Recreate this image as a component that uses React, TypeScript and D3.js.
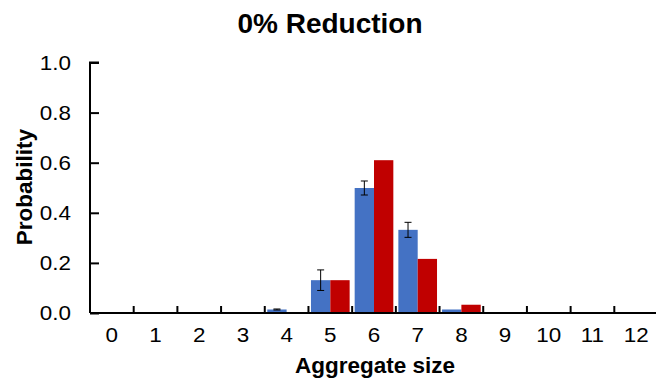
import React, { useEffect, useRef } from 'react';
import * as d3 from 'd3';

const sizes = ['0', '1', '2', '3', '4', '5', '6', '7', '8', '9', '10', '11', '12'];
const observed = [0, 0, 0, 0, 0.014, 0.131, 0.499, 0.332, 0.014, 0, 0, 0, 0];
const observedErr = [0, 0, 0, 0, 0.002, 0.041, 0.028, 0.03, 0, 0, 0, 0, 0];
const predicted = [0, 0, 0, 0, 0.004, 0.131, 0.61, 0.216, 0.033, 0, 0, 0, 0];
const yTicks = [0, 0.2, 0.4, 0.6, 0.8, 1.0];

const App = () => {
  const ref = useRef<SVGSVGElement>(null);

  useEffect(() => {
    document.body.style.margin = '0';
    const svg = d3.select(ref.current);
    svg.selectAll('*').remove();

    const font = 'Liberation Sans, Arial, sans-serif';
    const x = d3.scaleBand().domain(sizes).range([90, 658]);
    const inner = d3.scaleBand().domain(['obs', 'pred']).range([0, x.bandwidth()]).paddingOuter(0.13);
    const y = d3.scaleLinear().domain([0, 1]).range([313, 62.5]);

    // bars
    const g = svg.append('g');
    sizes.forEach((s, i) => {
      const x0 = x(s)!;
      g.append('rect')
        .attr('x', x0 + inner('obs')!)
        .attr('y', y(observed[i]))
        .attr('width', inner.bandwidth())
        .attr('height', y(0) - y(observed[i]))
        .attr('fill', '#4472C4');
      g.append('rect')
        .attr('x', x0 + inner('pred')!)
        .attr('y', y(predicted[i]))
        .attr('width', inner.bandwidth())
        .attr('height', y(0) - y(predicted[i]))
        .attr('fill', '#C00000');
      if (observedErr[i] > 0) {
        const cx = x0 + inner('obs')! + inner.bandwidth() / 2;
        const lo = y(observed[i] - observedErr[i]);
        const hi = y(observed[i] + observedErr[i]);
        g.append('line').attr('x1', cx).attr('x2', cx).attr('y1', lo).attr('y2', hi)
          .attr('stroke', '#000').attr('stroke-width', 1);
        [lo, hi].forEach((yy) =>
          g.append('line').attr('x1', cx - 3.5).attr('x2', cx + 3.5).attr('y1', yy).attr('y2', yy)
            .attr('stroke', '#000').attr('stroke-width', 1)
        );
      }
    });

    // y axis
    const yAxis = svg.append('g').attr('transform', 'translate(90,0)')
      .call(d3.axisRight(y).tickValues(yTicks).tickSize(9).tickFormat(d3.format('.1f')));
    yAxis.select('.domain').attr('stroke-width', 2).attr('d', `M9,${y(1)}H0V${y(0)}`);
    yAxis.selectAll('.tick line').attr('stroke-width', 2);
    yAxis.selectAll('.tick text')
      .attr('x', null).attr('dy', '0.35em')
      .attr('transform', 'translate(-19,0) scale(1.15,1)')
      .attr('text-anchor', 'end')
      .style('font-family', font).style('font-size', '19.5px').attr('fill', '#000');

    // x axis
    const xAxis = svg.append('g').attr('transform', 'translate(0,313)')
      .call(d3.axisTop(x).tickSize(0));
    xAxis.select('.domain').attr('stroke-width', 2).attr('d', 'M90,0H658');
    xAxis.selectAll('.tick text')
      .attr('y', null).attr('dy', null)
      .attr('transform', 'translate(0,29) scale(1.15,1)')
      .style('font-family', font).style('font-size', '19.5px').attr('fill', '#000');
    sizes.slice(1).forEach((s) => {
      xAxis.append('line').attr('x1', x(s)!).attr('x2', x(s)!).attr('y1', 0).attr('y2', -7)
        .attr('stroke', '#000').attr('stroke-width', 2);
    });

    // titles
    svg.append('text').attr('x', 330).attr('y', 33).attr('text-anchor', 'middle')
      .style('font-family', font).style('font-size', '28px').style('font-weight', 'bold')
      .text('0% Reduction');
    svg.append('text').attr('x', 375).attr('y', 373).attr('text-anchor', 'middle')
      .style('font-family', font).style('font-size', '22.5px').style('font-weight', 'bold')
      .text('Aggregate size');
    svg.append('text').attr('transform', 'translate(32,187) rotate(-90)').attr('text-anchor', 'middle')
      .style('font-family', font).style('font-size', '22.5px').style('font-weight', 'bold')
      .text('Probability');
  }, []);

  return <svg ref={ref} width={656} height={379} style={{ display: 'block', background: '#fff' }} />;
};

export default App;
